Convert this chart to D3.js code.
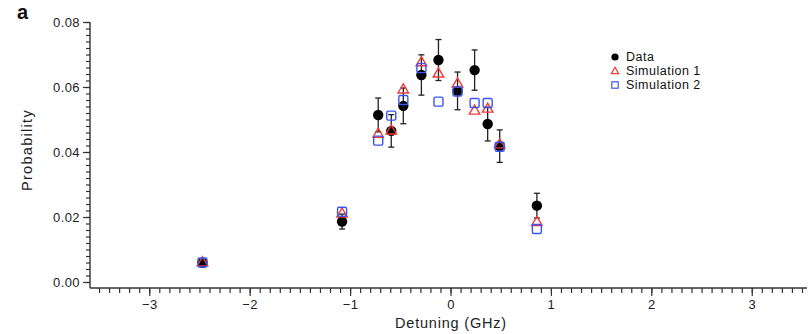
<!DOCTYPE html>
<html>
<head>
<meta charset="utf-8">
<script src="https://cdn.jsdelivr.net/npm/d3@7"></script>
<style>
  body { margin: 0; background: #fff; }
  text { font-family: "Liberation Sans", Arial, sans-serif; }
</style>
</head>
<body>
<div id="svg-div"></div>
<script>
var width = 812;
var height = 334;

// detuning (GHz) for each measurement
var detuning = [-2.47, -1.08, -0.72, -0.59, -0.47, -0.29, -0.12, 0.07, 0.24, 0.37, 0.49, 0.86];
var dataVals = [0.0059, 0.0186, 0.0514, 0.0465, 0.0542, 0.0637, 0.0683, 0.0588, 0.0652, 0.0486, 0.0418, 0.0235];
var dataErr = [0.0008, 0.0023, 0.0052, 0.0050, 0.0055, 0.0062, 0.0063, 0.0058, 0.0062, 0.0052, 0.0050, 0.0038];
var sim1Vals = [0.0062, 0.0212, 0.0458, 0.0468, 0.0594, 0.0678, 0.0643, 0.0612, 0.0529, 0.0535, 0.0425, 0.0186];
var sim2Vals = [0.0060, 0.0216, 0.0435, 0.0512, 0.0560, 0.0658, 0.0555, 0.0586, 0.0551, 0.0551, 0.0416, 0.0163];

var xTicks = [-3, -2, -1, 0, 1, 2, 3];
var yTicks = [0, 0.02, 0.04, 0.06, 0.08];
var legendLabels = ["Data", "Simulation 1", "Simulation 2"];

var red = "#f03a3a";
var blue = "#3a56f0";
var axisColor = "#333";

var svg = d3.select("#svg-div").append("svg")
        .attr("width", width).attr("height", height);

var x = d3.scaleLinear().domain([-3.6, 3.55]).range([89, 807]);
var y = d3.scaleLinear().domain([0, 0.08]).range([282, 22]);
var xAxisY = 288;
var yAxisX = 90;

// minor ticks
var xMinor = d3.range(-35, 36).map(function(d) { return d / 10; });
var yMinor = d3.range(0, 41).map(function(d) { return d * 0.002; });

var xMinorAxis = svg.append("g")
   .attr("transform", "translate(0," + xAxisY + ")")
   .call(d3.axisBottom(x).tickValues(xMinor).tickSize(5).tickFormat(""));
var xAxis = svg.append("g")
   .attr("transform", "translate(0," + xAxisY + ")")
   .call(d3.axisBottom(x).tickValues(xTicks).tickSize(8).tickPadding(4)
     .tickFormat(function(d) { return d < 0 ? "\u2212" + Math.abs(d) : d; }));
var yMinorAxis = svg.append("g")
   .attr("transform", "translate(" + yAxisX + ",0)")
   .call(d3.axisLeft(y).tickValues(yMinor).tickSize(4).tickFormat(""));
var yAxis = svg.append("g")
   .attr("transform", "translate(" + yAxisX + ",0)")
   .call(d3.axisLeft(y).tickValues(yTicks).tickSize(7).tickPadding(3).tickFormat(d3.format(".2f")));

[xMinorAxis, xAxis, yMinorAxis, yAxis].forEach(function(g) {
  g.selectAll(".domain").remove();
  g.selectAll("line").attr("stroke", axisColor).attr("stroke-width", 1.2);
  g.selectAll("text").attr("font-size", 13).attr("letter-spacing", 0.4).attr("fill", "#222");
});

svg.append("line")
   .attr("x1", yAxisX).attr("y1", xAxisY)
   .attr("x2", x(3.55)).attr("y2", xAxisY)
   .style("stroke", axisColor).style("stroke-width", 1.4);
svg.append("line")
   .attr("x1", yAxisX).attr("y1", y(0.08))
   .attr("x2", yAxisX).attr("y2", xAxisY)
   .style("stroke", axisColor).style("stroke-width", 1.4);

// axis titles
svg.append("text")
   .attr("x", 451).attr("y", 328)
   .attr("text-anchor", "middle").attr("font-size", 14.5).attr("letter-spacing", 0.8).attr("fill", "#222")
   .text("Detuning (GHz)");
svg.append("text")
   .attr("transform", "translate(32,150) rotate(-90)")
   .attr("text-anchor", "middle").attr("font-size", 14.5).attr("letter-spacing", 1.3).attr("fill", "#222")
   .text("Probability");
svg.append("text")
   .attr("x", 17).attr("y", 19)
   .attr("font-size", 20).attr("font-weight", "bold").attr("fill", "#111")
   .text("a");

var rows = detuning.map(function(d, i) {
  return { x: d, data: dataVals[i], err: dataErr[i], s1: sim1Vals[i], s2: sim2Vals[i] };
});

var tri = d3.symbol().type(d3.symbolTriangle).size(48);

// data with error bars
var eb = svg.append("g").selectAll("g").data(rows).enter().append("g");
eb.append("line")
   .attr("x1", function(d) { return x(d.x); }).attr("x2", function(d) { return x(d.x); })
   .attr("y1", function(d) { return y(d.data + d.err); })
   .attr("y2", function(d) { return y(d.data - d.err); })
   .style("stroke", "#222").style("stroke-width", 1.3);
[1, -1].forEach(function(s) {
  eb.append("line")
     .attr("x1", function(d) { return x(d.x) - 3; }).attr("x2", function(d) { return x(d.x) + 3; })
     .attr("y1", function(d) { return y(d.data + s * d.err); })
     .attr("y2", function(d) { return y(d.data + s * d.err); })
     .style("stroke", "#222").style("stroke-width", 1.3);
});
eb.append("circle")
   .attr("cx", function(d) { return x(d.x); })
   .attr("cy", function(d) { return y(d.data); })
   .attr("r", 5.2).attr("fill", "#000");

// simulation 1
svg.append("g").selectAll("path").data(rows).enter().append("path")
   .attr("d", tri)
   .attr("transform", function(d) { return "translate(" + x(d.x) + "," + (y(d.s1) + 1) + ")"; })
   .attr("fill", "none").attr("stroke", red).attr("stroke-width", 1.4);

// simulation 2
svg.append("g").selectAll("rect").data(rows).enter().append("rect")
   .attr("x", function(d) { return x(d.x) - 4.5; })
   .attr("y", function(d) { return y(d.s2) - 4.5; })
   .attr("width", 9).attr("height", 9).attr("rx", 1.5)
   .attr("fill", "none").attr("stroke", blue).attr("stroke-width", 1.4);

// legend
var legendGap = 14;
var legend = svg.append("g").attr("transform", "translate(615,57)");
var item = legend.selectAll("g").data(legendLabels).enter().append("g")
   .attr("transform", function(d, i) { return "translate(0," + (i * legendGap) + ")"; });
item.append("text")
   .attr("x", 11).attr("y", 4.4)
   .attr("font-size", 12.5).attr("letter-spacing", 0.5).attr("fill", "#111")
   .text(function(d) { return d; });
legend.append("circle").attr("cx", 0).attr("cy", 0).attr("r", 3.6).attr("fill", "#000");
legend.append("path").attr("d", d3.symbol().type(d3.symbolTriangle).size(24))
   .attr("transform", "translate(0," + (legendGap + 0.5) + ")")
   .attr("fill", "none").attr("stroke", red).attr("stroke-width", 1.2);
legend.append("rect").attr("x", -3.2).attr("y", 2 * legendGap - 3.2).attr("width", 6.4).attr("height", 6.4)
   .attr("fill", "none").attr("stroke", blue).attr("stroke-width", 1.2);
</script>
</body>
</html>
